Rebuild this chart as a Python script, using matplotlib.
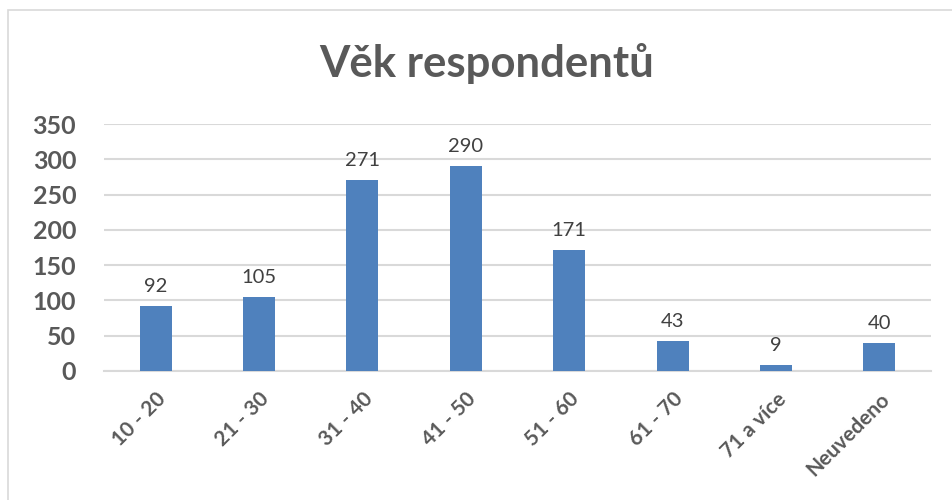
import matplotlib
matplotlib.use("Agg")
import matplotlib.pyplot as plt
from matplotlib.patches import Rectangle

categories = ["10 - 20", "21 - 30", "31 - 40", "41 - 50", "51 - 60", "61 - 70", "71 a více", "Neuvedeno"]
values = [92, 105, 271, 290, 171, 43, 9, 40]
yticks = [0, 50, 100, 150, 200, 250, 300, 350]
title = "Věk respondentů"

plt.rcParams['font.family'] = ['Lato', 'DejaVu Sans']

fig = plt.figure(figsize=(9.52, 5.0), dpi=100)
fig.patch.set_facecolor("white")

# chart border (left & top visible)
fig.patches.append(Rectangle((8/952, -0.1), 1.2, (490/500) + 0.1, transform=fig.transFigure,
                             fill=False, edgecolor="#D9D9D9", linewidth=1.2))

ax = fig.add_axes([104/952, 129/500, 827/952, 247/500])
x = list(range(len(categories)))
ax.bar(x, values, width=0.31, color="#4F81BD", zorder=3)
ax.set_xlim(-0.5, len(categories) - 0.5)
ax.set_ylim(0, 350)
ax.set_yticks(yticks)
ax.set_yticklabels([str(t) for t in yticks], fontsize=18, fontweight="bold", color="#595959")
ax.set_xticks(x)
ax.set_xticklabels(categories, rotation=45, ha="right", rotation_mode="anchor",
                   fontsize=15, fontweight="bold", color="#595959")
ax.tick_params(axis="both", length=0)
ax.tick_params(axis="y", pad=20)
ax.tick_params(axis="x", pad=13)
ax.grid(axis="y", color="#D9D9D9", linewidth=1.5, zorder=0)
for s in ["top", "right", "left"]:
    ax.spines[s].set_visible(False)
ax.spines["bottom"].set_color("#D9D9D9")
ax.spines["bottom"].set_linewidth(1.5)

for xi, v in zip(x, values):
    ax.annotate(str(v), (xi, v), xytext=(0, 8), textcoords="offset points",
                ha="center", va="bottom", fontsize=14.5, color="#404040")

fig.text(487/952, 1 - 63/500, title, ha="center", va="center",
         fontsize=31.5, fontweight="bold", color="#595959")

fig.savefig("out.png", dpi=100)
